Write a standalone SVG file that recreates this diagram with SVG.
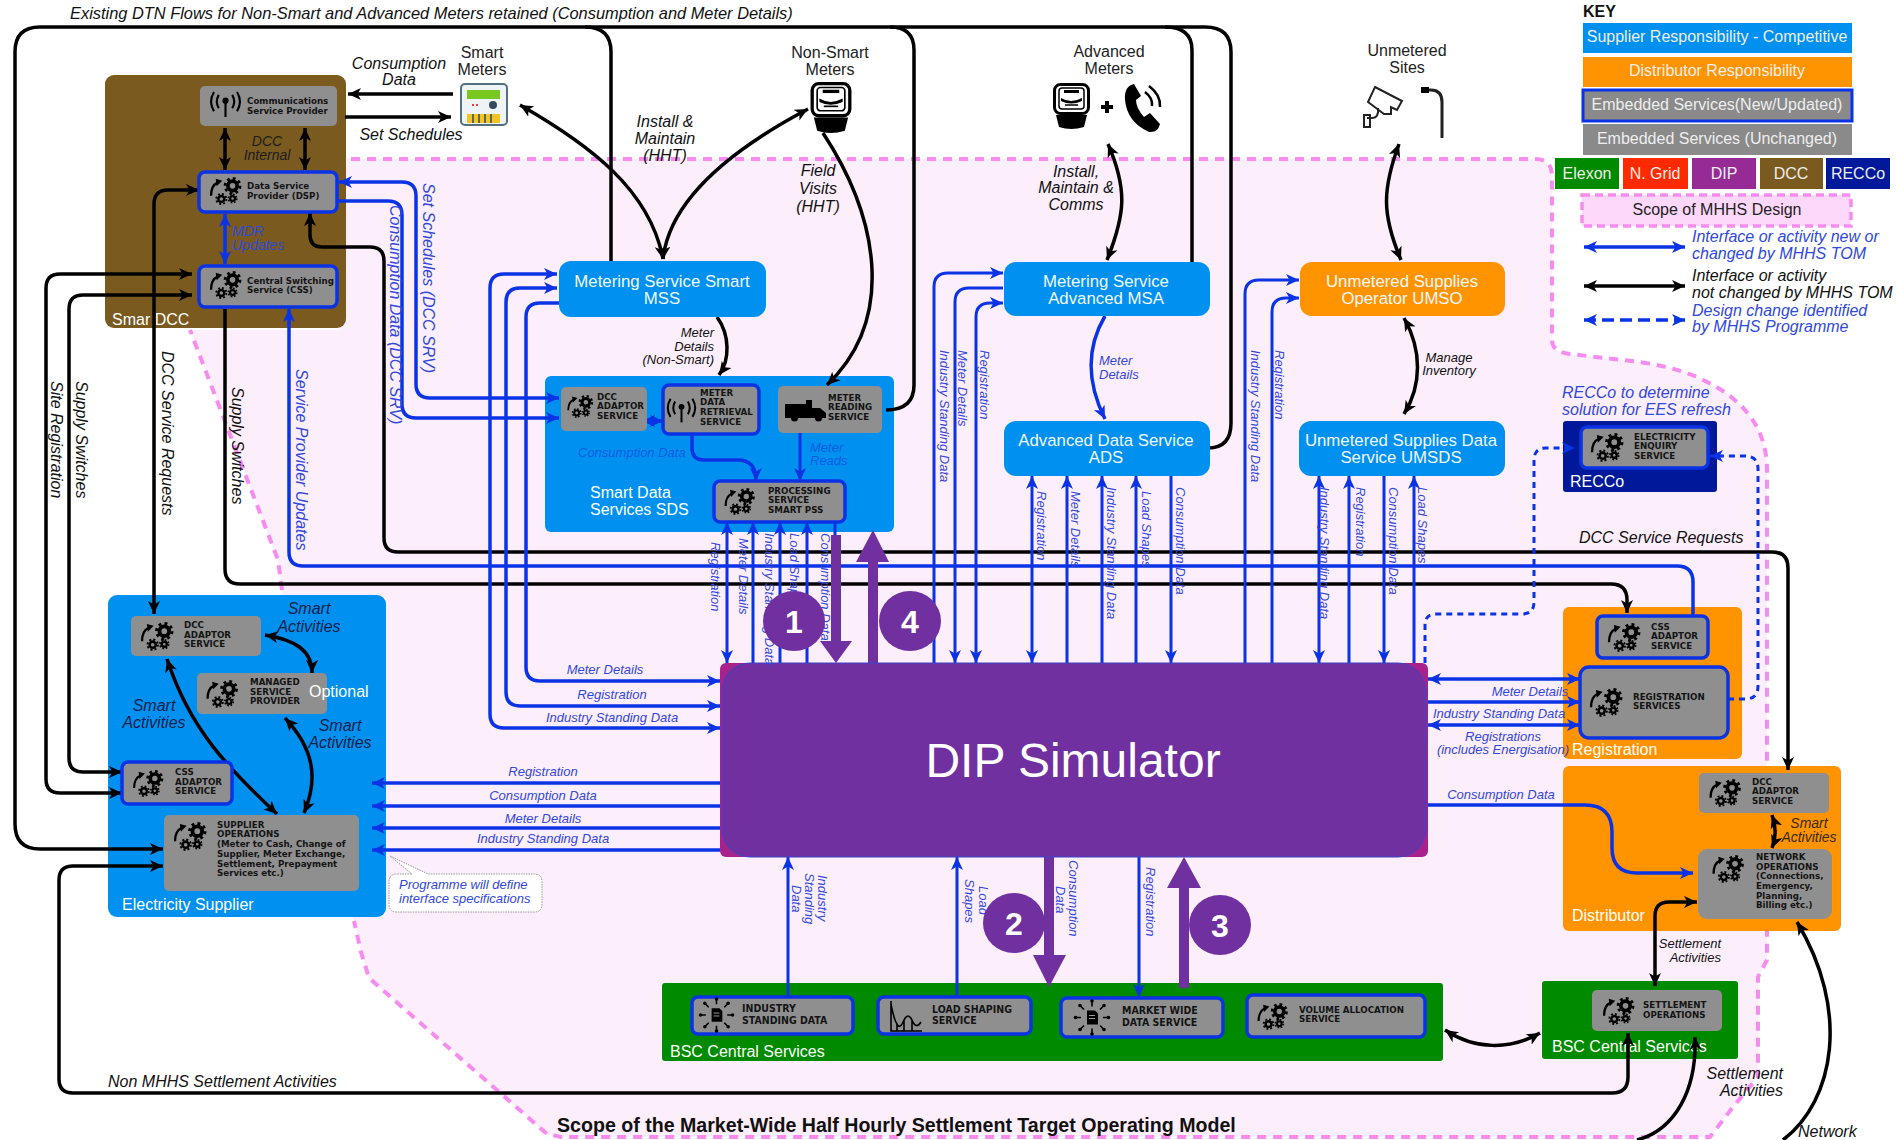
<svg xmlns="http://www.w3.org/2000/svg" xmlns:xlink="http://www.w3.org/1999/xlink" width="1897" height="1140" viewBox="0 0 1897 1140">
<style>
text{font-family:"Liberation Sans",Arial,sans-serif}
.k{fill:none;stroke:#000;stroke-width:3.5}
.b{fill:none;stroke:#0b33e6;stroke-width:3.5}
.t{fill:none;stroke:#0b33e6;stroke-width:3}
.d{fill:none;stroke:#0b33e6;stroke-width:3;stroke-dasharray:6 5}
.ke{marker-end:url(#mk)}.ks{marker-start:url(#mk)}
.be{marker-end:url(#mb)}.bs{marker-start:url(#mb)}
.c{rx:9px;ry:9px}
.blue{fill:#0091f0}.or{fill:#ff9400}.gr{fill:#008a00}
.g{fill:#8f8f8f;rx:5px;ry:5px}
.u{fill:#8f8f8f;stroke:#0b33e6;stroke-width:3.5;rx:6px;ry:6px}
.n{font-family:"DejaVu Sans",Verdana,sans-serif;font-weight:700;font-size:8.7px;fill:#141414}
.nb{font-size:10.5px;font-family:"DejaVu Sans Condensed","DejaVu Sans",sans-serif}
.w{fill:#fff;font-size:16px}
.wc{fill:#f2f8ff;font-size:16.8px;text-anchor:middle}
.i{font-style:italic;font-size:16px;fill:#111}
.is{font-style:italic;font-size:13px;fill:#3048dc}
.il{font-style:italic;font-size:16px;fill:#3048dc}
.m{text-anchor:middle}
.r{text-anchor:end}
.h{font-size:16px;fill:#222;text-anchor:middle}
.key{font-size:16px;text-anchor:middle;fill:#eee}
.num{font-size:32px;font-weight:700;fill:#fff;text-anchor:middle}
.dark{font-style:italic;font-size:16px;fill:#10204a;text-anchor:middle}
</style>
<defs>
<marker id="mk" markerUnits="userSpaceOnUse" markerWidth="16" markerHeight="14" refX="13" refY="7" orient="auto-start-reverse"><path d="M0 1L13 7L0 13L3.5 7Z" fill="#000"/></marker>
<marker id="mb" markerUnits="userSpaceOnUse" markerWidth="16" markerHeight="14" refX="13" refY="7" orient="auto-start-reverse"><path d="M0 1L13 7L0 13L3.5 7Z" fill="#0b33e6"/></marker>
<symbol id="gears" viewBox="0 0 36 30" overflow="visible">
<circle cx="25" cy="9.500" r="5" fill="none" stroke="#000" stroke-width="4"/><circle cx="25" cy="9.500" r="8" fill="none" stroke="#000" stroke-width="3" stroke-dasharray="3 3.280"/>
<circle cx="13" cy="23.500" r="3.200" fill="none" stroke="#000" stroke-width="2.600"/><circle cx="13" cy="23.500" r="5.400" fill="none" stroke="#000" stroke-width="2" stroke-dasharray="2.100 2.140"/>
<circle cx="25" cy="23" r="2.600" fill="none" stroke="#000" stroke-width="2.400"/><circle cx="25" cy="23" r="4.500" fill="none" stroke="#000" stroke-width="1.800" stroke-dasharray="1.800 1.730"/>
<path d="M2 20Q2 9 9 6" fill="none" stroke="#000" stroke-width="2.400"/><path d="M7 2L14 4L8 10Z" fill="#000"/>
</symbol>
<symbol id="antenna" viewBox="0 0 34 26" overflow="visible">
<circle cx="17" cy="9" r="3.200"/><path d="M17 9V26" stroke="#000" stroke-width="2.200"/>
<path d="M10 3Q6 10 10 17M24 3Q28 10 24 17M5 0Q-1 10 5 20M29 0Q35 10 29 20" fill="none" stroke="#000" stroke-width="2.200"/>
</symbol>
<symbol id="burst" viewBox="0 0 36 36" overflow="visible">
<path d="M13 11H21L24 14V25H13Z" fill="#000"/><path d="M15 16H21M15 19H21" stroke="#999" stroke-width="1"/>
<g stroke="#000" stroke-width="1.600"><path d="M18 1V7M18 29V35M1 18H7M29 18H35M6 6L10 10M30 6L26 10M6 30L10 26M30 30L26 26"/></g>
<g><circle cx="18" cy="1.500" r="1.800"/><circle cx="18" cy="34.500" r="1.800"/><circle cx="1.500" cy="18" r="1.800"/><circle cx="34.500" cy="18" r="1.800"/><circle cx="6" cy="6" r="1.800"/><circle cx="30" cy="6" r="1.800"/><circle cx="6" cy="30" r="1.800"/><circle cx="30" cy="30" r="1.800"/></g>
</symbol>
<symbol id="meter" viewBox="0 0 37 47" overflow="visible">
<rect x="1.500" y="1.500" width="34" height="29" rx="6" fill="#fff" stroke="#000" stroke-width="3"/>
<rect x="6" y="5" width="25" height="21" rx="3" fill="#fff" stroke="#000" stroke-width="1.500"/>
<rect x="11" y="7" width="15" height="3" fill="#000"/><path d="M8 15Q18 21 29 15V18Q18 23 8 18Z" fill="#000"/><path d="M12 22H25" stroke="#000" stroke-width="1.500"/>
<path d="M3 32H34L31 44Q18 48 6 44Z" fill="#000"/>
</symbol>
</defs>

<!-- scope of the design -->
<path id="scope" d="M190 330L278 560L282 590L354 921L361 952L369 978L547 1134L561 1137H1710L1733 1107L1758 1077V977L1767 960V470Q1767 410 1703 380Q1680 368 1640 362L1570 354Q1552 352 1552 340V176Q1552 159 1535 159H351L340 159V330Z" fill="#fdeefb" stroke="none"/>
<path d="M351 159H1535Q1552 159 1552 176V340Q1552 352 1570 354L1640 362Q1680 368 1703 380Q1767 410 1767 470V960L1758 977V1077L1733 1107L1710 1137H561L547 1134L369 978L361 952L354 921M282 590L278 560L190 330" fill="none" stroke="#f78cf0" stroke-width="4" stroke-dasharray="9 7"/>

<!-- containers -->
<g id="node-smart-dcc"><rect x="105" y="75" width="241" height="253" class="c" fill="#7a5a1e"/><text x="112" y="325" class="w">Smar  DCC</text></g>
<g id="node-electricity-supplier"><rect x="108" y="595" width="278" height="322" class="c blue"/><text x="122" y="910" class="w">Electricity Supplier</text></g>
<g id="node-sds"><rect x="545" y="376" width="349" height="156" rx="6" class="blue"/><text class="w" x="590" y="498">Smart Data</text><text class="w" x="590" y="515">Services SDS</text></g>
<g id="node-recco"><rect x="1563" y="421" width="154" height="71" rx="3" fill="#00189a"/><text class="w" x="1570" y="487">RECCo</text></g>
<g id="node-registration"><rect x="1563" y="607" width="179" height="152" rx="6" class="or"/><text class="w" x="1572" y="755">Registration</text></g>
<g id="node-distributor"><rect x="1563" y="766" width="278" height="165" rx="6" class="or"/><text class="w" x="1572" y="921">Distributor</text></g>
<g id="node-bsc-central"><rect x="662" y="983" width="781" height="78" rx="3" class="gr"/><text class="w" x="670" y="1057">BSC Central Services</text></g>
<g id="node-bsc-settlement"><rect x="1542" y="981" width="196" height="78" rx="3" class="gr"/><text class="w" x="1552" y="1052">BSC Central Services</text></g>

<!-- connectors -->
<g id="connectors">
<path class="k ke" d="M1208 448Q1231 448 1231 423V52Q1231 27 1205 27H40Q15 27 15 52V824Q15 849 40 849H163"/>
<path class="k" d="M585 27Q611 27 611 52V262M890 27Q914 27 914 50V385Q914 410 886 410M1165 27Q1192 27 1192 50V262"/>
<path class="k ke" d="M345 117H451"/><path class="k ke" d="M453 94H348"/>
<path class="k ke ks" d="M225 128V170"/><path class="k ke ks" d="M305 128V170"/>
<path class="b bs be" d="M225 214V264"/>
<path class="k ks ke" d="M199 190H168Q154 190 154 204V614"/>
<path class="k ks ke" d="M122 793H60Q46 793 46 779V288Q46 274 60 274H192"/>
<path class="k ks ke" d="M122 772H83Q69 772 69 758V309Q69 295 83 295H192"/>
<path class="k ks" d="M1627 613V600Q1627 584 1611 584H240Q225 584 225 569V309"/>
<path class="k ks ke" d="M310 213V235Q310 247 322 247H370Q384 247 384 261V538Q384 552 398 552H1772Q1788 552 1788 568V770"/>
<path class="b bs" d="M289 309V552Q289 566 303 566H1677Q1693 566 1693 582V616"/>
<path class="b bs be" d="M339 182H402Q416 182 416 196V384Q416 398 430 398H559"/>
<path class="b be" d="M331 201H388Q402 201 402 215V404Q402 418 416 418H559"/>
<path class="b bs be" d="M557 274H504Q490 274 490 288V714Q490 728 504 728H720"/>
<path class="b bs be" d="M557 288H520Q506 288 506 302V692Q506 706 520 706H720"/>
<path class="b be" d="M559 303H540Q526 303 526 317V667Q526 681 540 681H720"/>
<path class="k ke ks" d="M520 105C590 145 650 190 663 259"/>
<path class="k ke ks" d="M663 259C670 195 740 145 808 109"/>
<path class="k ke" d="M823 133C880 220 895 320 827 385"/>
<path class="k ke" d="M717 317C730 335 730 360 719 375"/>
<path class="t be bs" d="M727 522V663"/><path class="t bs" d="M753 522V663"/><path class="t bs" d="M780 522V663"/><path class="t bs" d="M807 522V663"/>
<path class="t" d="M835 522V640"/>
<path class="b be bs" d="M642 421H663"/>
<path class="b be" d="M692 434V448Q692 460 704 460H738Q756 460 756 481"/>
<path class="t be" d="M800 433V481"/>
<path class="t bs" d="M1003 273H948Q934 273 934 287V663"/>
<path class="t be" d="M1003 288H969Q955 288 955 302V663"/>
<path class="t bs be" d="M1003 303H990Q976 303 976 317V663"/>
<path class="k ks ke" d="M1108 144C1128 190 1125 215 1107 260"/>
<path class="b be" d="M1105 316C1085 350 1088 385 1105 419"/>
<path class="k ks ke" d="M1399 144C1382 190 1382 215 1401 260"/>
<path class="k ks ke" d="M1404 318C1422 350 1422 385 1404 414"/>
<path class="t bs" d="M1299 280H1259Q1245 280 1245 294V663"/>
<path class="t bs" d="M1299 298H1286Q1272 298 1272 312V663"/>
<path class="t bs be" d="M1032 476V663"/><path class="t bs" d="M1067 476V663"/><path class="t bs" d="M1102 476V663"/><path class="t bs" d="M1136 476V663"/><path class="t be" d="M1171 476V663"/>
<path class="t bs be" d="M1319 476V663"/><path class="t bs" d="M1349 476V663"/><path class="t be" d="M1384 476V663"/><path class="t bs" d="M1414 476V663"/>
<path class="d be" d="M1425 663V625Q1425 614 1436 614H1522Q1534 614 1534 602V460Q1534 448 1546 448H1575"/>
<path class="d be" d="M1728 699H1745Q1758 699 1758 686V469Q1758 456 1745 456H1710"/>
<path class="b bs be" d="M1428 679H1580"/><path class="b be" d="M1428 702H1580"/><path class="b bs be" d="M1428 725H1580"/>
<path class="b be" d="M1428 805H1585Q1612 805 1612 832V848Q1612 873 1637 873H1693"/>
<path class="k ks ke" d="M1655 986V916Q1655 902 1669 902H1697"/>
<path class="k ks ke" d="M1772 815C1776 826 1776 838 1772 848"/>
<path class="k ks ke" d="M1445 1030C1475 1050 1510 1050 1540 1033"/>
<path class="k ks ke" d="M163 866H73Q59 866 59 880V1079Q59 1093 73 1093H1612Q1628 1093 1628 1077V1033"/>
<path class="k ke" d="M1637 1140C1675 1130 1697 1090 1695 1037"/>
<path class="k ke" d="M1783 1140C1835 1100 1850 1010 1797 922"/>
<path class="t bs" d="M788 857V997"/><path class="t bs" d="M957 857V997"/><path class="t be" d="M1139 857V997"/>
<path class="b bs" d="M372 783H720"/><path class="b bs" d="M372 806H720"/><path class="b bs" d="M372 828H720"/><path class="b bs" d="M372 850H720"/>
<path class="k ks ke" d="M265 635C295 640 312 650 312 673"/>
<path class="k ks ke" d="M167 659C190 730 230 770 277 814"/>
<path class="k ks ke" d="M285 718C315 750 318 780 304 813"/>
<g fill="#7030a0">
<path d="M831 535H841V641H852L836 663L820 641H831Z"/>
<path d="M868 663V562H856L873 530L889 562H878V663Z"/>
<path d="M1044 857H1054V955H1066L1049 987L1033 955H1044Z"/>
<path d="M1179 988V888H1167L1184 857L1201 888H1189V988Z"/>
</g>
</g>

<!-- inner services -->
<g id="node-csp"><rect x="200" y="86" width="137" height="40" class="g"/><use href="#antenna" x="209" y="92" width="33" height="25"/><text class="n" x="247" y="104">Communications</text><text class="n" x="247" y="114">Service Provider</text></g>
<g id="node-dsp"><rect x="199" y="172" width="138" height="40" class="u"/><use href="#gears" x="208" y="177" width="36" height="28"/><text class="n" x="247" y="189">Data Service</text><text class="n" x="247" y="199">Provider (DSP)</text></g>
<g id="node-css"><rect x="199" y="266" width="138" height="41" class="u"/><use href="#gears" x="208" y="271" width="36" height="28"/><text class="n" x="247" y="284">Central Switching</text><text class="n" x="247" y="293">Service (CSS)</text></g>
<g id="node-supplier-dcc"><rect x="131" y="616" width="130" height="40" class="g"/><use href="#gears" x="140" y="622" width="35" height="29"/><text class="n" x="184" y="628">DCC</text><text class="n" x="184" y="638">ADAPTOR</text><text class="n" x="184" y="647">SERVICE</text></g>
<g id="node-managed"><rect x="197" y="673" width="130" height="41" class="g"/><use href="#gears" x="205" y="680" width="35" height="28"/><text class="n" x="250" y="685">MANAGED</text><text class="n" x="250" y="695">SERVICE</text><text class="n" x="250" y="704">PROVIDER</text><text x="309" y="697" class="w">Optional</text></g>
<g id="node-supplier-css"><rect x="122" y="762" width="110" height="42" class="u"/><use href="#gears" x="131" y="770" width="35" height="27"/><text class="n" x="175" y="775">CSS</text><text class="n" x="175" y="785">ADAPTOR</text><text class="n" x="175" y="794">SERVICE</text></g>
<g id="node-supplier-ops"><rect x="164" y="815" width="195" height="76" class="g"/><use href="#gears" x="173" y="822" width="35" height="29"/><text class="n" x="217" y="828">SUPPLIER</text><text class="n" x="217" y="837">OPERATIONS</text><text class="n" x="217" y="847">(Meter to Cash, Change of</text><text class="n" x="217" y="857">Supplier, Meter Exchange,</text><text class="n" x="217" y="867">Settlement, Prepayment</text><text class="n" x="217" y="876">Services etc.)</text></g>
<g id="node-sds-dcc"><rect x="561" y="387" width="86" height="44" class="g"/><use href="#gears" x="565" y="395" width="31" height="23"/><text class="n" x="597" y="400">DCC</text><text class="n" x="597" y="409">ADAPTOR</text><text class="n" x="597" y="419">SERVICE</text></g>
<g id="node-mdr"><rect x="663" y="385" width="96" height="49" class="u"/><use href="#antenna" x="666" y="398" width="31" height="25"/><text class="n" x="700" y="396">METER</text><text class="n" x="700" y="405">DATA</text><text class="n" x="700" y="415">RETRIEVAL</text><text class="n" x="700" y="425">SERVICE</text></g>
<g id="node-meter-reading"><rect x="778" y="386" width="104" height="47" class="g"/><path d="M785 404H806V400H812V408H820L826 413V418H822A3.500 3.500 0 0 1 815 418H798A3.500 3.500 0 0 1 791 418H785Z"/><text class="n" x="828" y="401">METER</text><text class="n" x="828" y="410">READING</text><text class="n" x="828" y="420">SERVICE</text></g>
<g id="node-pss"><rect x="714" y="481" width="131" height="41" class="u"/><use href="#gears" x="723" y="488" width="34" height="27"/><text class="n" x="768" y="494">PROCESSING</text><text class="n" x="768" y="503">SERVICE</text><text class="n" x="768" y="513">SMART PSS</text></g>
<g id="node-mss"><rect x="559" y="261" width="207" height="56" rx="12" class="blue"/><text class="wc"><tspan x="662" y="287">Metering Service Smart</tspan><tspan x="662" y="304">MSS</tspan></text></g>
<g id="node-msa"><rect x="1004" y="262" width="206" height="54" rx="12" class="blue"/><text class="wc"><tspan x="1106" y="287">Metering Service</tspan><tspan x="1106" y="304">Advanced MSA</tspan></text></g>
<g id="node-ads"><rect x="1004" y="421" width="206" height="55" rx="12" class="blue"/><text class="wc"><tspan x="1106" y="446">Advanced Data Service</tspan><tspan x="1106" y="463">ADS</tspan></text></g>
<g id="node-umso"><rect x="1300" y="262" width="205" height="54" rx="12" class="or"/><text class="wc"><tspan x="1402" y="287">Unmetered Supplies</tspan><tspan x="1402" y="304">Operator UMSO</tspan></text></g>
<g id="node-umsds"><rect x="1299" y="421" width="206" height="55" rx="12" class="blue"/><text class="wc"><tspan x="1401" y="446">Unmetered Supplies Data</tspan><tspan x="1401" y="463">Service UMSDS</tspan></text></g>
<g id="node-ees"><rect x="1581" y="427" width="127" height="41" class="u"/><use href="#gears" x="1590" y="433" width="35" height="29"/><text class="n" x="1634" y="440">ELECTRICITY</text><text class="n" x="1634" y="449">ENQUIRY</text><text class="n" x="1634" y="459">SERVICE</text></g>
<g id="node-reg-css"><rect x="1597" y="616" width="111" height="42" class="u"/><use href="#gears" x="1607" y="623" width="35" height="29"/><text class="n" x="1651" y="630">CSS</text><text class="n" x="1651" y="639">ADAPTOR</text><text class="n" x="1651" y="649">SERVICE</text></g>
<g id="node-reg-services"><rect x="1580" y="667" width="148" height="71" class="u" style="rx:9px;ry:9px"/><use href="#gears" x="1589" y="688" width="35" height="29"/><text class="n" x="1633" y="700">REGISTRATION</text><text class="n" x="1633" y="709">SERVICES</text></g>
<g id="node-dist-dcc"><rect x="1699" y="773" width="130" height="40" class="g"/><use href="#gears" x="1708" y="779" width="35" height="28"/><text class="n" x="1752" y="785">DCC</text><text class="n" x="1752" y="794">ADAPTOR</text><text class="n" x="1752" y="804">SERVICE</text></g>
<g id="node-network"><rect x="1698" y="849" width="134" height="70" class="g" style="rx:9px;ry:9px"/><use href="#gears" x="1711" y="855" width="35" height="28"/><text class="n" x="1756" y="860">NETWORK</text><text class="n" x="1756" y="870">OPERATIONS</text><text class="n" x="1756" y="879">(Connections,</text><text class="n" x="1756" y="889">Emergency,</text><text class="n" x="1756" y="899">Planning,</text><text class="n" x="1756" y="908">Billing etc.)</text></g>
<g id="node-settlement-ops"><rect x="1592" y="990" width="130" height="41" class="g"/><use href="#gears" x="1602" y="997" width="34" height="28"/><text class="n" x="1643" y="1008">SETTLEMENT</text><text class="n" x="1643" y="1018">OPERATIONS</text></g>
<g id="node-isd"><rect x="692" y="997" width="161" height="37" class="u"/><use href="#burst" x="699" y="997" width="35" height="36"/><text class="n nb" x="742" y="1012">INDUSTRY</text><text class="n nb" x="742" y="1024">STANDING DATA</text></g>
<g id="node-load"><rect x="878" y="997" width="153" height="37" class="u"/><path d="M891 1001V1031H922M891 1030V1004Q894 1020 897 1024Q900 1030 904 1020Q908 1012 912 1020Q916 1030 921 1022M897 1024V1031M904 1020V1031M912 1020V1031" fill="none" stroke="#000" stroke-width="1.600"/><text class="n nb" x="932" y="1013">LOAD SHAPING</text><text class="n nb" x="932" y="1024">SERVICE</text></g>
<g id="node-mwd"><rect x="1061" y="998" width="162" height="39" class="u"/><use href="#burst" x="1074" y="999" width="36" height="37"/><text class="n nb" x="1122" y="1014">MARKET WIDE</text><text class="n nb" x="1122" y="1026">DATA SERVICE</text></g>
<g id="node-volume"><rect x="1247" y="995" width="178" height="42" class="u"/><use href="#gears" x="1256" y="1003" width="34" height="27"/><text class="n" x="1299" y="1013">VOLUME ALLOCATION</text><text class="n" x="1299" y="1022">SERVICE</text></g>

<g id="node-dip"><rect x="720" y="663" width="708" height="194" rx="6" fill="#a8228c"/><rect x="722" y="663" width="704" height="194" rx="28" fill="#7030a0" stroke="#3b44c8" stroke-width="1"/><text x="1073" y="777" text-anchor="middle" font-size="48" fill="#fff">DIP Simulator</text></g>

<!-- field devices -->
<g id="node-smart-meters"><rect x="461" y="84" width="46" height="41" rx="4" fill="#eef3f5" stroke="#52707f" stroke-width="2"/><rect x="467" y="90" width="33" height="9" fill="#78c820"/><circle cx="493" cy="105" r="4" fill="#34495e"/><path d="M472 105h8" stroke="#e04040" stroke-width="2" stroke-dasharray="2 2"/><rect x="467" y="114" width="33" height="9" fill="#f2c522"/><path d="M473 114v9M479 114v9M485 114v9M491 114v9" stroke="#34495e" stroke-width="1.500"/><text class="h" x="482" y="58">Smart</text><text class="h" x="482" y="75">Meters</text></g>
<g id="node-non-smart-meters"><use href="#meter" x="810" y="82" width="42" height="52"/><text class="h" x="830" y="58">Non-Smart</text><text class="h" x="830" y="75">Meters</text></g>
<g id="node-advanced-meters"><use href="#meter" x="1053" y="83" width="37" height="47"/><path d="M1101 107H1113M1107 101V113" stroke="#000" stroke-width="4"/><path d="M1134 84Q1124 86 1125 100Q1127 122 1149 132Q1158 133 1160 124L1150 113L1144 117Q1136 108 1136 100L1141 96Z"/><path d="M1145 92Q1153 98 1152 106M1149 86Q1161 95 1160 107" fill="none" stroke="#000" stroke-width="2.500"/><text class="h" x="1109" y="57">Advanced</text><text class="h" x="1109" y="74">Meters</text></g>
<g id="node-unmetered-sites"><path d="M1375 87L1402 101L1397 110L1391 107V114H1384L1368 102Z" fill="#fff" stroke="#222" stroke-width="2"/><path d="M1378 108Q1379 118 1372 118H1367M1364 115H1370V127H1364Z" fill="none" stroke="#222" stroke-width="2"/><path d="M1423 90H1431Q1442 90 1442 102V138" fill="none" stroke="#222" stroke-width="3"/><rect x="1421" y="87" width="8" height="6"/><text class="h" x="1407" y="56">Unmetered</text><text class="h" x="1407" y="73">Sites</text></g>

<!-- labels -->
<g id="labels">
<text class="i" style="font-size:16.4px" x="70" y="19">Existing DTN Flows for Non-Smart and Advanced Meters retained (Consumption and Meter Details)</text>
<text class="i m" x="399" y="69">Consumption</text><text class="i m" x="399" y="85">Data</text>
<text class="i m" x="411" y="140">Set Schedules</text>
<text class="m" font-style="italic" font-size="14" fill="#1d1d1d" x="267" y="146">DCC</text><text class="m" font-style="italic" font-size="14" fill="#1d1d1d" x="267" y="160">Internal</text>
<text class="is" style="font-size:14px" x="232" y="236">MDR</text><text class="is" style="font-size:14px" x="232" y="250">Updates</text>
<text class="i m" x="665" y="127">Install &amp;</text><text class="i m" x="665" y="144">Maintain</text><text class="i m" x="665" y="161">(HHT)</text>
<text class="i m" x="818" y="176">Field</text><text class="i m" x="818" y="194">Visits</text><text class="i m" x="818" y="212">(HHT)</text>
<text class="i r" style="font-size:13px" x="714" y="337">Meter</text><text class="i r" style="font-size:13px" x="714" y="351">Details</text><text class="i r" style="font-size:13px" x="714" y="364">(Non-Smart)</text>
<text class="i m" x="1076" y="177">Install,</text><text class="i m" x="1076" y="193">Maintain &amp;</text><text class="i m" x="1076" y="210">Comms</text>
<text class="is" x="1099" y="365">Meter</text><text class="is" x="1099" y="379">Details</text>
<text class="i m" style="font-size:13px" x="1449" y="362">Manage</text><text class="i m" style="font-size:13px" x="1449" y="375">Inventory</text>
<text class="is" style="fill:#0a5de0" x="578" y="457">Consumption Data</text>
<text class="is" style="fill:#0a5de0" x="810" y="452">Meter</text><text class="is" style="fill:#0a5de0" x="810" y="465">Reads</text>
<text class="il" x="1562" y="398">RECCo to determine</text><text class="il" x="1562" y="415">solution for EES refresh</text>
<text class="i" x="1579" y="543">DCC Service Requests</text>
<text class="is m" x="605" y="674">Meter Details</text><text class="is m" x="612" y="699">Registration</text><text class="is m" x="612" y="722">Industry Standing Data</text>
<text class="is m" x="543" y="776">Registration</text><text class="is m" x="543" y="800">Consumption Data</text><text class="is m" x="543" y="823">Meter Details</text><text class="is m" x="543" y="843">Industry Standing Data</text>
<text class="is m" x="1530" y="696">Meter Details</text><text class="is m" x="1499" y="718">Industry Standing Data</text><text class="is m" x="1503" y="741">Registrations</text><text class="is m" x="1503" y="754">(includes Energisation)</text>
<text class="is m" x="1501" y="799">Consumption Data</text>
<text class="dark" x="309" y="614">Smart</text><text class="dark" x="309" y="632">Activities</text>
<text class="dark" x="154" y="711">Smart</text><text class="dark" x="154" y="728">Activities</text>
<text class="dark" x="340" y="731">Smart</text><text class="dark" x="340" y="748">Activities</text>
<text class="m" font-style="italic" font-size="14" fill="#3a2a10" x="1809" y="828">Smart</text><text class="m" font-style="italic" font-size="14" fill="#3a2a10" x="1809" y="842">Activities</text>
<text class="i r" style="font-size:13px" x="1721" y="948">Settlement</text><text class="i r" style="font-size:13px" x="1721" y="962">Activities</text>
<text class="i r" x="1783" y="1079">Settlement</text><text class="i r" x="1783" y="1096">Activities</text>
<text class="i" x="108" y="1087">Non MHHS Settlement Activities</text>
<text class="i" x="1798" y="1137">Network</text>
<text x="557" y="1132" font-weight="700" font-size="19.6" fill="#111">Scope of the Market-Wide Half Hourly Settlement Target Operating Model</text>
<g id="rotated">
<text class="il" transform="translate(423,183) rotate(90)">Set Schedules (DCC SRV)</text>
<text class="il" transform="translate(390,205) rotate(90)">Consumption Data (DCC SRV)</text>
<text class="i" transform="translate(76,381) rotate(90)">Supply Switches</text>
<text class="i" transform="translate(51,381) rotate(90)">Site Registration</text>
<text class="i" transform="translate(162,351) rotate(90)">DCC Service Requests</text>
<text class="i" transform="translate(232,387) rotate(90)">Supply Switches</text>
<text class="il" transform="translate(296,369) rotate(90)">Service Provider Updates</text>
<text class="is" transform="translate(711,542) rotate(90)">Registration</text>
<text class="is" transform="translate(739,538) rotate(90)">Meter Details</text>
<text class="is" transform="translate(765,533) rotate(90)">Industry Standing Data</text>
<text class="is" transform="translate(790,533) rotate(90)">Load Shapes</text>
<text class="is" transform="translate(821,533) rotate(90)">Consumption Data</text>
<text class="is" transform="translate(940,350) rotate(90)">Industry Standing Data</text>
<text class="is" transform="translate(958,350) rotate(90)">Meter Details</text>
<text class="is" transform="translate(980,350) rotate(90)">Registration</text>
<text class="is" transform="translate(1037,491) rotate(90)">Registration</text>
<text class="is" transform="translate(1071,491) rotate(90)">Meter Details</text>
<text class="is" transform="translate(1107,487) rotate(90)">Industry Standing Data</text>
<text class="is" transform="translate(1142,491) rotate(90)">Load Shapes</text>
<text class="is" transform="translate(1176,487) rotate(90)">Consumption Data</text>
<text class="is" transform="translate(1251,350) rotate(90)">Industry Standing Data</text>
<text class="is" transform="translate(1275,350) rotate(90)">Registration</text>
<text class="is" transform="translate(1320,487) rotate(90)">Industry Standing Data</text>
<text class="is" transform="translate(1356,487) rotate(90)">Registration</text>
<text class="is" transform="translate(1389,487) rotate(90)">Consumption Data</text>
<text class="is" transform="translate(1418,487) rotate(90)">Load Shapes</text>
<text class="is" transform="translate(818,875) rotate(90)">Industry</text>
<text class="is" transform="translate(805,873) rotate(90)">Standing</text>
<text class="is" transform="translate(792,885) rotate(90)">Data</text>
<text class="is" transform="translate(979,886) rotate(90)">Load</text>
<text class="is" transform="translate(965,879) rotate(90)">Shapes</text>
<text class="is" transform="translate(1069,860) rotate(90)">Consumption</text>
<text class="is" transform="translate(1056,886) rotate(90)">Data</text>
<text class="is" transform="translate(1146,867) rotate(90)">Registration</text>
</g>
</g>

<!-- numbered steps -->
<g id="step-1"><ellipse cx="794" cy="621" rx="31" ry="30" fill="#7030a0"/><text class="num" x="794" y="633">1</text></g>
<g id="step-4"><ellipse cx="910" cy="621" rx="31" ry="30" fill="#7030a0"/><text class="num" x="910" y="633">4</text></g>
<g id="step-2"><ellipse cx="1014" cy="923" rx="31" ry="30" fill="#7030a0"/><text class="num" x="1014" y="935">2</text></g>
<g id="step-3"><ellipse cx="1220" cy="925" rx="31" ry="30" fill="#7030a0"/><text class="num" x="1220" y="937">3</text></g>

<g id="callout"><path d="M390 856L428 874H534Q542 874 542 882V904Q542 912 534 912H397Q389 912 389 904V882Q389 874 397 874H412Z" fill="#fff" stroke="#999" stroke-dasharray="1.500 1" stroke-width="1"/><text class="is" x="399" y="889">Programme will define</text><text class="is" x="399" y="903">interface specifications</text></g>

<!-- key -->
<g id="key">
<text x="1583" y="17" font-weight="700" font-size="16" fill="#111">KEY</text>
<rect x="1583" y="23" width="269" height="30" fill="#0091f0"/><text class="key" x="1717" y="42">Supplier Responsibility - Competitive</text>
<rect x="1583" y="57" width="269" height="30" fill="#ff9400"/><text class="key" x="1717" y="76">Distributor Responsibility</text>
<rect x="1583" y="90" width="269" height="31" fill="#8a8a8a" stroke="#0b33e6" stroke-width="3"/><text class="key" x="1717" y="110">Embedded Services(New/Updated)</text>
<rect x="1583" y="124" width="269" height="31" fill="#8a8a8a"/><text class="key" x="1717" y="144">Embedded Services (Unchanged)</text>
<rect x="1555" y="158" width="64" height="31" fill="#008a00"/><text class="key" x="1587" y="179">Elexon</text>
<rect x="1623" y="158" width="65" height="31" fill="#ff2a00"/><text class="key" x="1655" y="179">N. Grid</text>
<rect x="1692" y="158" width="64" height="31" fill="#962b96"/><text class="key" x="1724" y="179">DIP</text>
<rect x="1760" y="158" width="63" height="31" fill="#7a5a1e"/><text class="key" x="1791" y="179">DCC</text>
<rect x="1826" y="158" width="64" height="31" fill="#00189a"/><text class="key" x="1858" y="179">RECCo</text>
<rect x="1582" y="195" width="269" height="31" fill="#fdd8fb" stroke="#f78cf0" stroke-width="3.500" stroke-dasharray="8 5"/><text x="1717" y="215" font-size="16" text-anchor="middle" fill="#222">Scope of MHHS Design</text>
<path class="b be bs" d="M1584 247H1685"/><text class="il" x="1692" y="242">Interface or activity new or</text><text class="il" x="1692" y="259">changed by MHHS TOM</text>
<path class="k ke ks" d="M1584 286H1685"/><text class="i" x="1692" y="281">Interface or activity</text><text class="i" x="1692" y="298">not changed by MHHS TOM</text>
<path class="d be bs" style="stroke-width:3.500;stroke-dasharray:12 6" d="M1584 320H1685"/><text class="il" x="1692" y="316">Design change identified</text><text class="il" x="1692" y="332">by MHHS Programme</text>
</g>
</svg>
